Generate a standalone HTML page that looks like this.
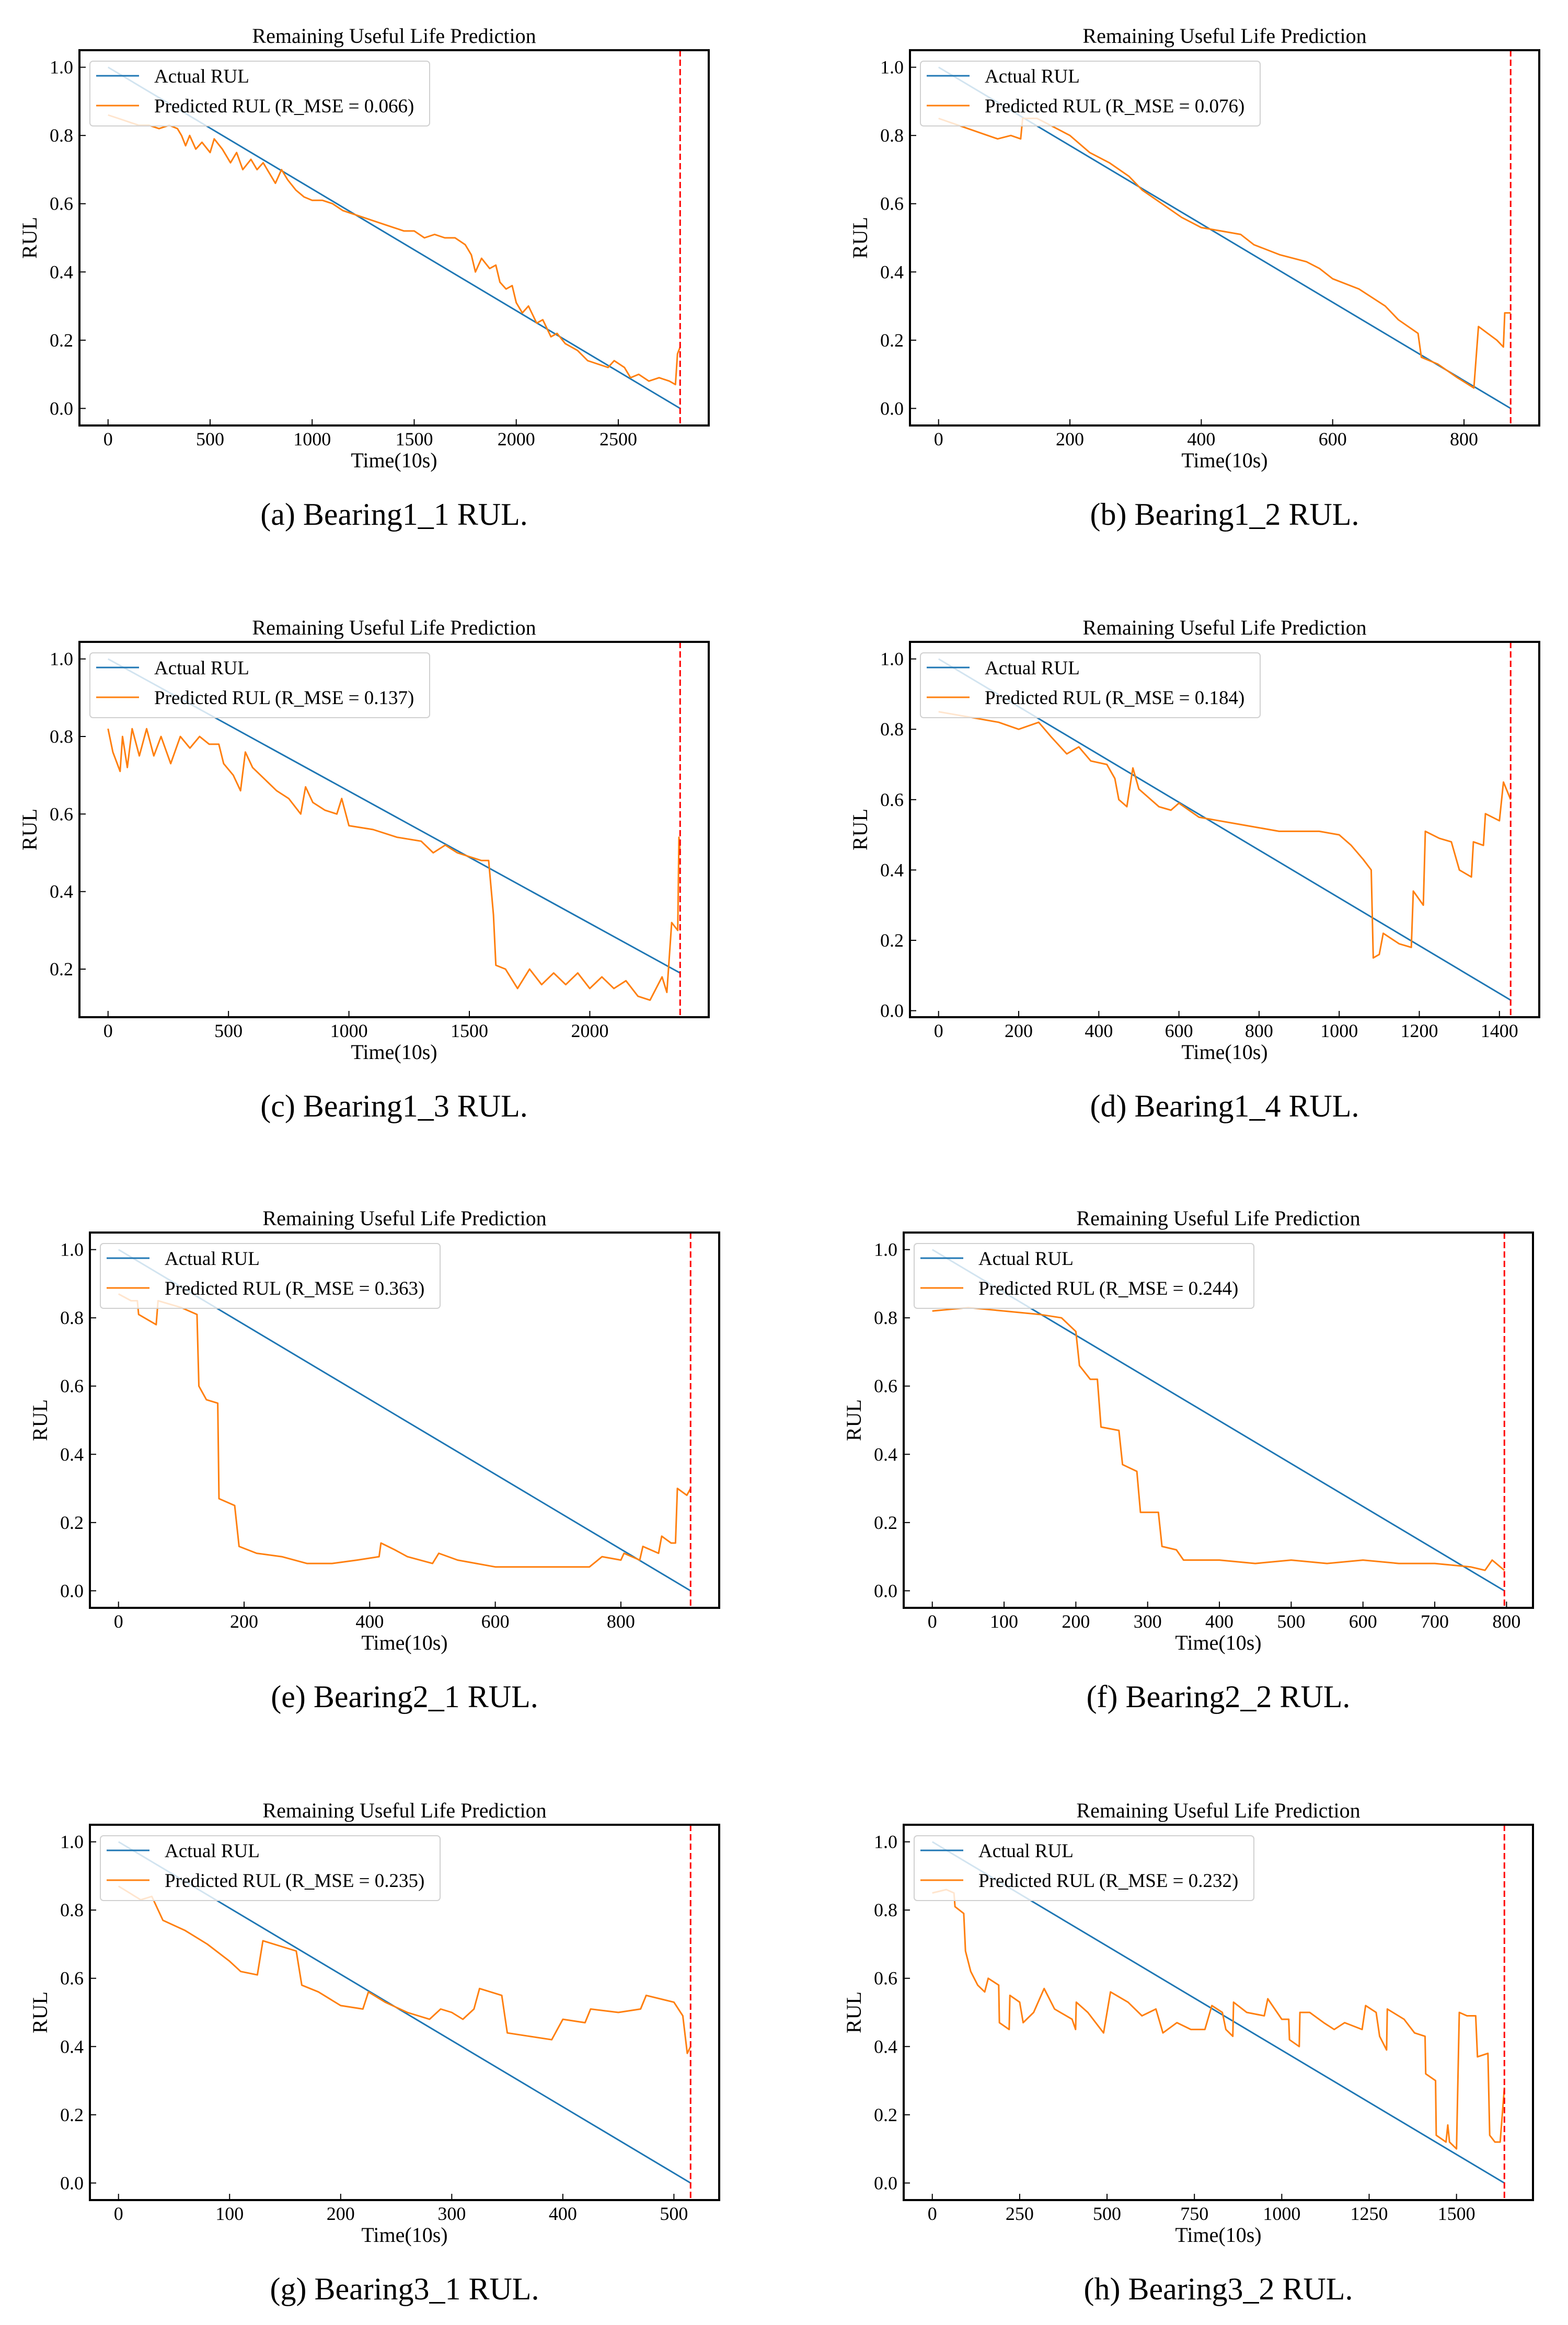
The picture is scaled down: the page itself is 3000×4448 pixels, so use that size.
<!DOCTYPE html>
<html><head><meta charset="utf-8">
<style>
html,body{margin:0;padding:0;background:#fff;}
svg{display:block;}
text{font-family:"Liberation Serif",serif;fill:#000;}
</style></head>
<body>
<svg id="fig" width="3000" height="4448" viewBox="0 0 3000 4448" xmlns="http://www.w3.org/2000/svg"></svg>
<script>
const captions = ["(a)  Bearing1_1 RUL.","(b)  Bearing1_2 RUL.","(c)  Bearing1_3 RUL.","(d)  Bearing1_4 RUL.","(e)  Bearing2_1 RUL.","(f)  Bearing2_2 RUL.","(g)  Bearing3_1 RUL.","(h)  Bearing3_2 RUL."];
const rmse = ["0.066","0.076","0.137","0.184","0.363","0.244","0.235","0.232"];
const lengths = [2803, 871, 2375, 1428, 911, 797, 515, 1637];
const actualEnd = [0, 0, 0.19, 0.03, 0, 0, 0, 0];
const xTickStep = [500, 200, 500, 200, 200, 100, 100, 250];
const yTicks = [0, 0.2, 0.4, 0.6, 0.8, 1.0];
const predA = [[0,0.86],[50,0.85],[100,0.84],[150,0.83],[200,0.83],[250,0.82],[300,0.83],[340,0.82],[360,0.80],[380,0.77],[400,0.80],[430,0.76],[460,0.78],[500,0.75],[520,0.79],[560,0.76],[600,0.72],[630,0.75],[660,0.70],[700,0.73],[730,0.70],[760,0.72],[800,0.68],[820,0.66],[850,0.70],[880,0.67],[920,0.64],[960,0.62],[1000,0.61],[1050,0.61],[1100,0.60],[1150,0.58],[1200,0.57],[1250,0.56],[1300,0.55],[1350,0.54],[1400,0.53],[1450,0.52],[1500,0.52],[1550,0.50],[1600,0.51],[1650,0.50],[1700,0.50],[1750,0.48],[1780,0.45],[1800,0.40],[1830,0.44],[1870,0.41],[1900,0.42],[1920,0.37],[1950,0.35],[1980,0.36],[2000,0.31],[2030,0.28],[2060,0.30],[2100,0.25],[2130,0.26],[2170,0.21],[2200,0.22],[2240,0.19],[2300,0.17],[2350,0.14],[2400,0.13],[2450,0.12],[2480,0.14],[2530,0.12],[2560,0.09],[2600,0.10],[2650,0.08],[2700,0.09],[2750,0.08],[2780,0.07],[2790,0.16],[2803,0.18]];
const predB = [[0,0.85],[30,0.83],[60,0.81],[90,0.79],[110,0.80],[125,0.79],[128,0.85],[150,0.85],[170,0.83],[200,0.80],[230,0.75],[260,0.72],[290,0.68],[310,0.64],[340,0.60],[370,0.56],[400,0.53],[430,0.52],[460,0.51],[480,0.48],[520,0.45],[560,0.43],[580,0.41],[600,0.38],[640,0.35],[680,0.30],[700,0.26],[730,0.22],[735,0.15],[760,0.13],[790,0.09],[815,0.06],[822,0.24],[850,0.20],[860,0.18],[862,0.28],[871,0.28]];
const predC = [[0,0.82],[20,0.76],[50,0.71],[60,0.80],[80,0.72],[100,0.82],[130,0.75],[160,0.82],[190,0.75],[220,0.80],[260,0.73],[300,0.80],[340,0.77],[380,0.80],[420,0.78],[460,0.78],[480,0.73],[520,0.70],[550,0.66],[570,0.76],[600,0.72],[650,0.69],[700,0.66],[750,0.64],[800,0.60],[820,0.67],[850,0.63],[900,0.61],[950,0.60],[970,0.64],[1000,0.57],[1100,0.56],[1200,0.54],[1300,0.53],[1350,0.50],[1400,0.52],[1450,0.50],[1500,0.49],[1550,0.48],[1580,0.48],[1600,0.34],[1610,0.21],[1650,0.20],[1700,0.15],[1750,0.20],[1800,0.16],[1850,0.19],[1900,0.16],[1950,0.19],[2000,0.15],[2050,0.18],[2100,0.15],[2150,0.17],[2200,0.13],[2250,0.12],[2300,0.18],[2320,0.14],[2340,0.32],[2365,0.30],[2370,0.54],[2375,0.50]];
const predD = [[0,0.85],[50,0.84],[100,0.83],[150,0.82],[200,0.80],[250,0.82],[280,0.78],[320,0.73],[350,0.75],[380,0.71],[420,0.70],[440,0.66],[450,0.60],[470,0.58],[485,0.69],[500,0.63],[550,0.58],[580,0.57],[600,0.59],[650,0.55],[700,0.54],[750,0.53],[800,0.52],[850,0.51],[900,0.51],[950,0.51],[1000,0.50],[1030,0.47],[1060,0.43],[1080,0.40],[1085,0.15],[1100,0.16],[1110,0.22],[1150,0.19],[1180,0.18],[1185,0.34],[1210,0.30],[1215,0.51],[1250,0.49],[1280,0.48],[1300,0.40],[1330,0.38],[1335,0.48],[1360,0.47],[1365,0.56],[1400,0.54],[1410,0.65],[1428,0.60]];
const predE = [[0,0.87],[20,0.85],[30,0.85],[32,0.81],[60,0.78],[63,0.85],[100,0.83],[125,0.81],[128,0.60],[140,0.56],[158,0.55],[160,0.27],[185,0.25],[192,0.13],[220,0.11],[260,0.10],[300,0.08],[340,0.08],[380,0.09],[415,0.10],[418,0.14],[440,0.12],[460,0.10],[500,0.08],[510,0.11],[540,0.09],[600,0.07],[650,0.07],[700,0.07],[750,0.07],[770,0.10],[800,0.09],[805,0.11],[830,0.09],[835,0.13],[860,0.11],[865,0.16],[880,0.14],[887,0.14],[890,0.30],[905,0.28],[911,0.30]];
const predF = [[0,0.82],[50,0.83],[100,0.82],[150,0.81],[180,0.80],[200,0.76],[205,0.66],[220,0.62],[230,0.62],[235,0.48],[260,0.47],[265,0.37],[285,0.35],[290,0.23],[315,0.23],[320,0.13],[340,0.12],[350,0.09],[400,0.09],[450,0.08],[500,0.09],[550,0.08],[600,0.09],[650,0.08],[700,0.08],[750,0.07],[770,0.06],[780,0.09],[797,0.06]];
const predG = [[0,0.87],[10,0.85],[20,0.83],[30,0.84],[40,0.77],[60,0.74],[80,0.70],[100,0.65],[110,0.62],[125,0.61],[130,0.71],[150,0.69],[160,0.68],[165,0.58],[180,0.56],[200,0.52],[220,0.51],[225,0.56],[240,0.53],[260,0.50],[280,0.48],[290,0.51],[300,0.50],[310,0.48],[320,0.51],[325,0.57],[345,0.55],[350,0.44],[370,0.43],[390,0.42],[400,0.48],[420,0.47],[425,0.51],[450,0.50],[470,0.51],[475,0.55],[500,0.53],[508,0.49],[512,0.38],[515,0.40]];
const predH = [[0,0.85],[40,0.86],[62,0.85],[65,0.81],[90,0.79],[95,0.68],[110,0.62],[130,0.58],[150,0.56],[160,0.60],[190,0.58],[192,0.47],[220,0.45],[222,0.55],[250,0.53],[260,0.47],[290,0.50],[320,0.57],[350,0.51],[400,0.48],[410,0.45],[412,0.53],[445,0.50],[490,0.44],[510,0.56],[560,0.53],[600,0.49],[640,0.51],[660,0.44],[700,0.47],[740,0.45],[780,0.45],[800,0.52],[830,0.50],[840,0.45],[860,0.43],[862,0.53],[900,0.50],[950,0.49],[960,0.54],[1000,0.48],[1020,0.48],[1022,0.42],[1050,0.40],[1052,0.50],[1080,0.50],[1120,0.47],[1150,0.45],[1180,0.47],[1230,0.45],[1240,0.52],[1270,0.50],[1280,0.43],[1300,0.39],[1302,0.51],[1350,0.48],[1380,0.44],[1410,0.43],[1412,0.32],[1440,0.30],[1442,0.14],[1470,0.12],[1475,0.17],[1480,0.12],[1500,0.10],[1508,0.50],[1530,0.49],[1555,0.49],[1560,0.37],[1590,0.38],[1595,0.14],[1610,0.12],[1625,0.12],[1637,0.28]];
const preds = [predA,predB,predC,predD,predE,predF,predG,predH];

const frames = [
 {x:152,y:96},{x:1741,y:96},
 {x:152,y:1228},{x:1741,y:1228},
 {x:172,y:2358},{x:1729,y:2358},
 {x:172,y:3491},{x:1729,y:3491}];
const FW = 1204, FH = 718;
const NS = "http://www.w3.org/2000/svg";
const svg = document.getElementById('fig');
function mk(tag, attrs, parent){
  const e = document.createElementNS(NS, tag);
  for (const k in attrs) e.setAttribute(k, attrs[k]);
  (parent||svg).appendChild(e);
  return e;
}
const panelNames = ['a','b','c','d','e','f','g','h'];
for (let i=0;i<8;i++){
  const f = frames[i], N = lengths[i], pred = preds[i];
  const g = mk('g', {});
  
  
  let ymin = Math.min(actualEnd[i], ...pred.map(p=>p[1])), ymax = Math.max(1, ...pred.map(p=>p[1]));
  const yr = ymax-ymin; ymin -= 0.05*yr; ymax += 0.05*yr;
  const xmin = -0.05*N, xmax = 1.05*N;
  const sx = v => f.x + (v - xmin)/(xmax-xmin)*FW;
  const sy = v => f.y + FH - (v - ymin)/(ymax-ymin)*FH;
  const cx = f.x + FW/2;
  const t = mk('text', {x:cx, y:f.y-14, 'font-size':40, 'text-anchor':'middle'}, g);
  t.textContent = 'Remaining Useful Life Prediction';
  
  
  const al = mk('line', {x1:sx(0), y1:sy(1), x2:sx(N), y2:sy(actualEnd[i]), stroke:'#1f77b4', 'stroke-width':3}, g);
  
  
  const pl = mk('polyline', {points: pred.map(p=>sx(p[0]).toFixed(1)+','+sy(p[1]).toFixed(1)).join(' '), fill:'none', stroke:'#ff7f0e', 'stroke-width':3, 'stroke-linejoin':'round'}, g);
  
  
  const rl = mk('line', {x1:sx(N), y1:f.y, x2:sx(N), y2:f.y+FH, stroke:'#ff0000', 'stroke-width':3, 'stroke-dasharray':'12,6'}, g);
  
  
  const lg = mk('g', {}, g);
  
  
  mk('rect', {x:f.x+20, y:f.y+21, width:650, height:124, rx:6, fill:'rgba(255,255,255,0.8)', stroke:'#d0d0d0', 'stroke-width':2}, lg);
  mk('line', {x1:f.x+32, x2:f.x+114, y1:f.y+49, y2:f.y+49, stroke:'#1f77b4', 'stroke-width':3}, lg);
  mk('line', {x1:f.x+32, x2:f.x+114, y1:f.y+106, y2:f.y+106, stroke:'#ff7f0e', 'stroke-width':3}, lg);
  const l1 = mk('text', {x:f.x+143, y:f.y+62, 'font-size':37}, lg); l1.textContent = 'Actual RUL';
  
  
  const l2 = mk('text', {x:f.x+143, y:f.y+119, 'font-size':37}, lg); l2.textContent = 'Predicted RUL (R_MSE = ' + rmse[i] + ')';
  
  
  const fr = mk('rect', {x:f.x, y:f.y, width:FW, height:FH, fill:'none', stroke:'#000', 'stroke-width':4}, g);
  
  
  for (let v=0; v<=xmax; v+=xTickStep[i]){
    const x = sx(v);
    mk('line', {x1:x, x2:x, y1:f.y+FH, y2:f.y+FH-12, stroke:'#000', 'stroke-width':2}, g);
    const tl = mk('text', {x:x, y:f.y+FH+38, 'font-size':36, 'text-anchor':'middle'}, g);
    tl.textContent = String(v);
    
    
  }
  for (const v of yTicks){
    if (v < ymin || v > ymax) continue;
    const y = sy(v);
    mk('line', {x1:f.x, x2:f.x+12, y1:y, y2:y, stroke:'#000', 'stroke-width':2}, g);
    const tl = mk('text', {x:f.x-12, y:y+12, 'font-size':36, 'text-anchor':'end'}, g);
    tl.textContent = v.toFixed(1);
    
    
  }
  const xl = mk('text', {x:cx, y:f.y+FH+80, 'font-size':40, 'text-anchor':'middle'}, g);
  xl.textContent = 'Time(10s)';
  
  
  const yc = f.y+FH/2, yx = f.x-82;
  const yl = mk('text', {x:yx, y:yc, 'font-size':40, 'text-anchor':'middle', transform:'rotate(-90 '+yx+' '+yc+')'}, g);
  yl.textContent = 'RUL';
  
  
  const cp = mk('text', {x:cx, y:f.y+FH+190, 'font-size':60, 'text-anchor':'middle'}, g);
  cp.textContent = captions[i];
  
  
}
</script>
</body></html>
